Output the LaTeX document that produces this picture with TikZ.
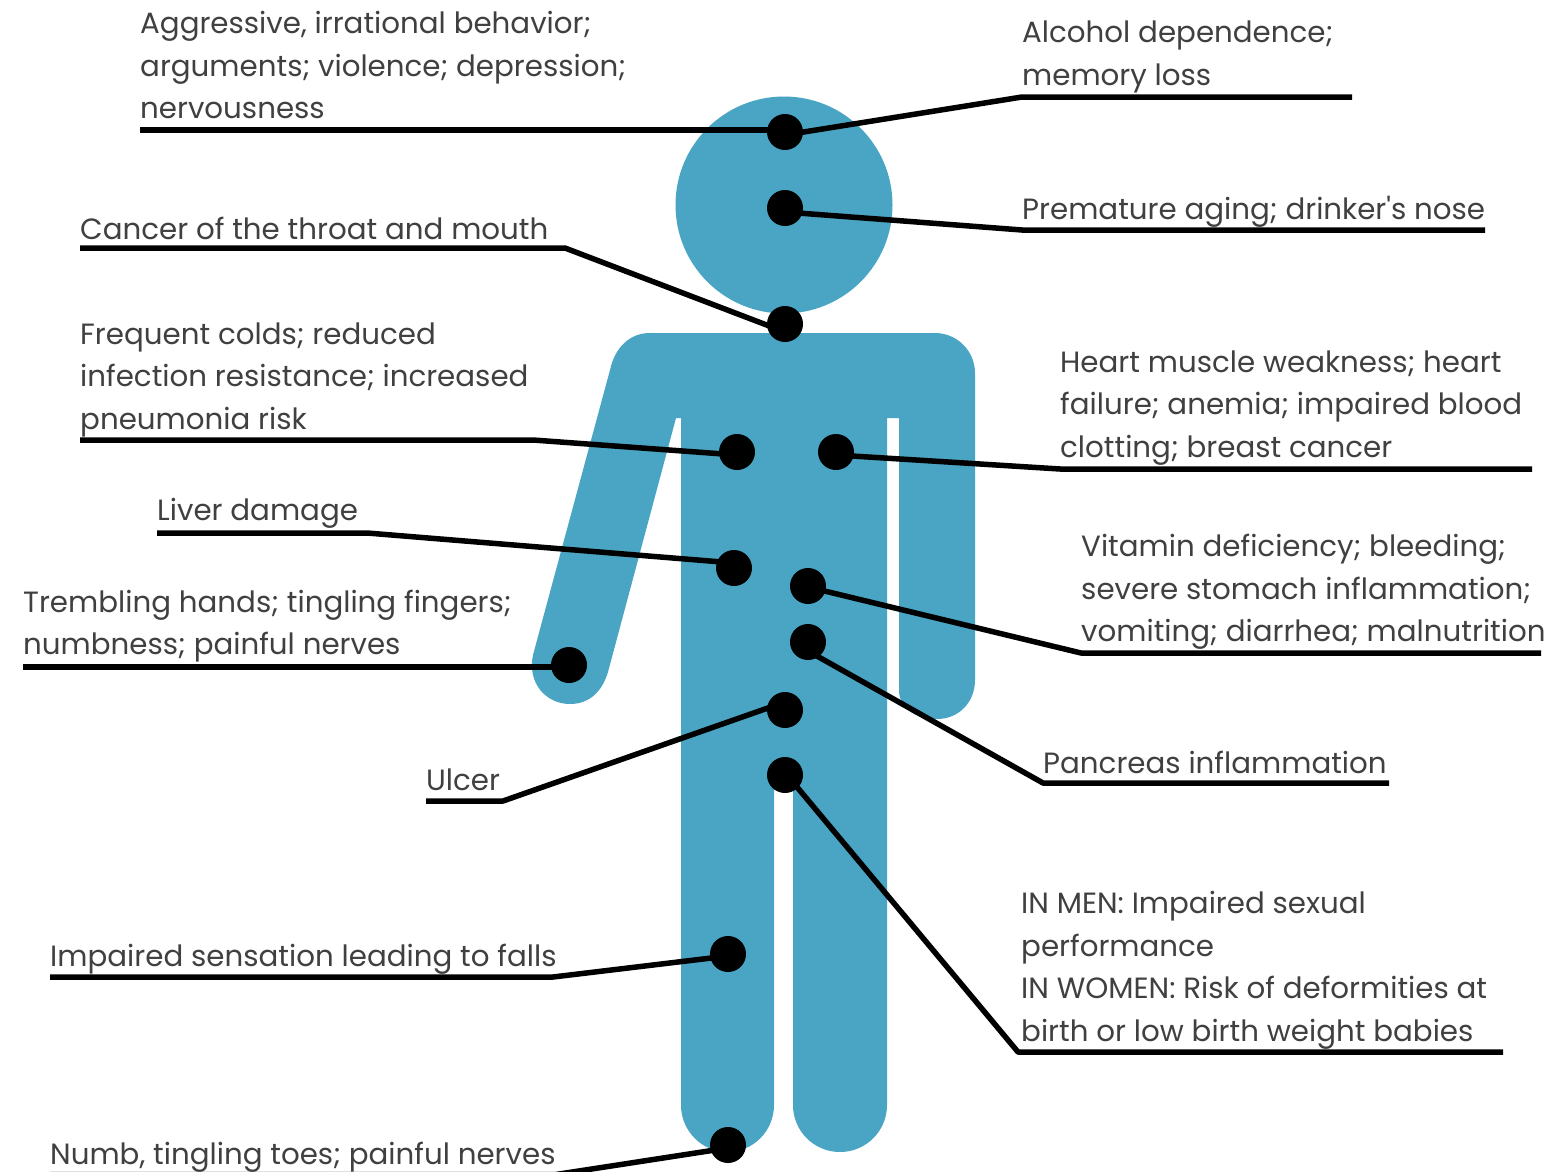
\documentclass[tikz,border=0pt]{standalone}
\usepackage{fontspec}
\newfontfamily\labelfont{Poppins}
\definecolor{bodyblue}{HTML}{49A5C3}
\definecolor{labelgrey}{HTML}{404040}
\tikzset{
  figure/.style={fill=bodyblue,draw=none},
  dot/.style={circle,fill=black,draw=none,minimum size=36pt,inner sep=0pt},
  lab/.style={anchor=south west,inner sep=0pt,align=left,text=labelgrey,
    font=\labelfont\fontsize{29.3}{42.5}\selectfont},
  leader/.style={draw=black,line width=5.5pt,line join=round}
}
\newcommand{\lab}[4]{\node[lab] (#1) at (#2,{#3+12.75}) {#4\strut};}
\begin{document}
\begin{tikzpicture}[x=1pt,y=-1pt]
\useasboundingbox (0,0) rectangle (1564,1172);
\clip (0,0) rectangle (1564,1172);
\fill[white] (0,0) rectangle (1564,1172);
% figure
\fill[figure] (784,205) circle (108.5);
\fill[figure] (650,333) -- (935,333)
  .. controls (957,333) and (975,351) .. (975,373)
  -- (975,680)
  .. controls (975,702) and (959,719) .. (937,719)
  .. controls (915,719) and (899,708) .. (899,690)
  -- (899,418) -- (887,418) -- (887,1105)
  .. controls (887,1131) and (866,1152) .. (840,1152)
  .. controls (814,1152) and (793,1131) .. (793,1105)
  -- (793,775) -- (774,775) -- (774,1105)
  .. controls (774,1131) and (753,1152) .. (727.5,1152)
  .. controls (702,1152) and (681,1131) .. (681,1105)
  -- (681,418) -- (676,418) -- (608,672)
  .. controls (602,692) and (589,704) .. (570,704)
  .. controls (546,704) and (527,683) .. (533,655)
  -- (610,370)
  .. controls (615,347) and (630,333) .. (650,333) -- cycle;
% dots
\node[dot] (brain) at (785,132) {};
\node[dot] (nose) at (785,208) {};
\node[dot] (throat) at (785,324) {};
\node[dot] (lung) at (737,452) {};
\node[dot] (heart) at (836,452) {};
\node[dot] (liver) at (734,568) {};
\node[dot] (stomach) at (808,586) {};
\node[dot] (pancreas) at (808,642) {};
\node[dot] (hand) at (569,665) {};
\node[dot] (ulcer) at (785,710) {};
\node[dot] (sex) at (785,775) {};
\node[dot] (leg) at (728,954) {};
\node[dot] (toe) at (728,1145) {};
% line ends and knees
\coordinate (a0) at (140,130);
\coordinate (b0) at (1352,97);   \coordinate (b1) at (1022,97);
\coordinate (c0) at (1485,230);  \coordinate (c1) at (1022,230);
\coordinate (d0) at (80,248);    \coordinate (d1) at (565,248);
\coordinate (e0) at (80,440);    \coordinate (e1) at (533,440);
\coordinate (f0) at (1532,469);  \coordinate (f1) at (1060,469);
\coordinate (g0) at (157,533);   \coordinate (g1) at (367,533);
\coordinate (h0) at (1541,653);  \coordinate (h1) at (1081,653);
\coordinate (i0) at (23,667);
\coordinate (j0) at (1389,783);  \coordinate (j1) at (1043,783);
\coordinate (k0) at (426,801);   \coordinate (k1) at (503,801);
\coordinate (l0) at (1503,1052); \coordinate (l1) at (1018,1052);
\coordinate (m0) at (50,977);    \coordinate (m1) at (553,977);
\coordinate (n0) at (50,1174.5); \coordinate (n1) at (556,1174.5);
% connectors
\draw[leader] (a0) -- ([yshift=2pt]brain.center);
\draw[leader] (b0) -- (b1) -- ([yshift=-3pt]brain.center);
\draw[leader] (c0) -- (c1) -- ([yshift=-4pt]nose.center);
\draw[leader] (d0) -- (d1) -- ([yshift=-8pt]throat.center);
\draw[leader] (e0) -- (e1) -- ([yshift=-3pt]lung.center);
\draw[leader] (f0) -- (f1) -- ([yshift=-3pt]heart.center);
\draw[leader] (g0) -- (g1) -- ([yshift=5pt]liver.center);
\draw[leader] (h0) -- (h1) -- ([yshift=-1pt]stomach.center);
\draw[leader] (i0) -- ([yshift=-2pt]hand.center);
\draw[leader] (j0) -- (j1) -- ([yshift=-9pt]pancreas.center);
\draw[leader] (k0) -- (k1) -- ([yshift=8pt]ulcer.center);
\draw[leader] (l0) -- (l1) -- ([xshift=2pt]sex.center);
\draw[leader] (m0) -- (m1) -- ([yshift=-2pt]leg.center);
\draw[leader] (n0) -- (n1) -- ([yshift=-3pt]toe.center);
% labels
\lab{ta}{140}{119}{Aggressive, irrational behavior;\\arguments; violence; depression;\\nervousness}
\lab{tb}{1022}{85.5}{Alcohol dependence;\\memory loss}
\lab{tc}{1022}{220}{Premature aging; drinker's nose}
\lab{td}{80}{239.5}{Cancer of the throat and mouth}
\lab{te}{80}{429.5}{Frequent colds; reduced\\infection resistance; increased\\pneumonia risk}
\lab{tf}{1060}{457.5}{Heart muscle weakness; heart\\failure; anemia; impaired blood\\clotting; breast cancer}
\lab{tg}{157}{521}{Liver damage}
\lab{th}{1081}{642}{Vitamin deficiency; bleeding;\\severe stomach inflammation;\\vomiting; diarrhea; malnutrition}
\lab{ti}{23}{655}{Trembling hands; tingling fingers;\\numbness; painful nerves}
\lab{tj}{1043}{773.5}{Pancreas inflammation}
\lab{tk}{426}{791}{Ulcer}
\lab{tl}{1021}{1041.5}{IN MEN: Impaired sexual\\performance\\IN WOMEN: Risk of deformities at\\birth or low birth weight babies}
\lab{tm}{50}{967}{Impaired sensation leading to falls}
\lab{tn}{50}{1165}{Numb, tingling toes; painful nerves}
\end{tikzpicture}
\end{document}
